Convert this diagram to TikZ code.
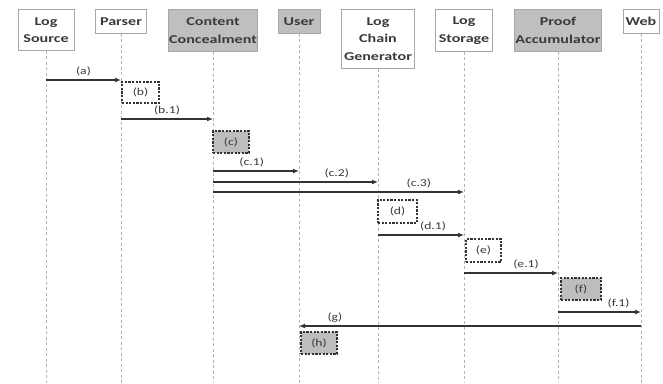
\documentclass[tikz,border=0pt]{standalone}
\usepackage{fontspec}
\setmainfont{Carlito}
\usepackage{graphicx}
\usetikzlibrary{arrows.meta}
\definecolor{hdrgray}{HTML}{BFBFBF}
\definecolor{hdrline}{HTML}{A6A6A6}
\definecolor{actgray}{HTML}{BDBDBD}
\definecolor{lifegray}{HTML}{B4B4B4}
\definecolor{msgcol}{HTML}{333333}
\definecolor{txtcol}{HTML}{3A3A3A}
\newcommand{\hs}[1]{\scalebox{1.34}[1]{#1}}
\newcommand{\ls}[1]{\scalebox{1.3}[1]{#1}}
\begin{document}
\begin{tikzpicture}[x=1pt,y=-1pt,
  hdr/.style={draw=hdrline, line width=0.9pt, fill=white, inner sep=0pt, align=center,
    font=\fontsize{12}{17.5}\selectfont\bfseries, text=txtcol, anchor=north},
  hdrg/.style={hdr, fill=hdrgray},
  life/.style={draw=lifegray, line width=0.7pt, dash pattern=on 3pt off 2.5pt},
  msg/.style={draw=msgcol, line width=1.3pt, -{Latex[length=6pt,width=5pt]}},
  lbl/.style={font=\fontsize{10.5}{11}\selectfont, text=txtcol, inner sep=1pt, above=2pt},
  act/.style={draw=black!80, line width=1.4pt, dash pattern=on 2.2pt off 1.4pt, fill=white,
    inner sep=0pt, font=\fontsize{10.5}{11}\selectfont, text=txtcol},
  actg/.style={act, fill=actgray}]
\useasboundingbox (0,0) rectangle (663,383);
\fill[white] (0,0) rectangle (663,383);
% headers
\node[hdr, minimum width=56, minimum height=41] (ls) at (46,9) {\hs{Log}\\\hs{Source}};
\node[hdr, minimum width=51, minimum height=24] (pa) at (121,9) {\hs{Parser}};
\node[hdrg, minimum width=89, minimum height=42] (cc) at (213,9) {\hs{Content}\\\hs{Concealment}};
\node[hdrg, minimum width=42, minimum height=24] (us) at (299,9) {\hs{User}};
\node[hdr, minimum width=73, minimum height=59] (lc) at (378,9) {\hs{Log}\\\hs{Chain}\\\hs{Generator}};
\node[hdr, minimum width=57, minimum height=42] (st) at (464,9) {\hs{Log}\\\hs{Storage}};
\node[hdrg, minimum width=87, minimum height=42] (pr) at (558,9) {\hs{Proof}\\\hs{Accumulator}};
\node[hdr, minimum width=36, minimum height=24] (wb) at (641,9) {\hs{Web}};
% lifelines
\coordinate (bot) at (0,383);
\foreach \n in {ls,pa,cc,us,lc,st,pr,wb}{
  \draw[life] (\n.south) -- (\n.south |- bot);
}
% rows
\coordinate (ya) at (0,80);
\coordinate (yb) at (0,119);
\coordinate (yc1) at (0,171);
\coordinate (yc2) at (0,182);
\coordinate (yc3) at (0,192);
\coordinate (yd) at (0,235);
\coordinate (ye) at (0,273);
\coordinate (yf) at (0,312);
\coordinate (yg) at (0,326);
% messages
\draw[msg] (ls |- ya) -- (pa |- ya) node[lbl, pos=0.5] (la) {\ls{(a)}};
\draw[msg] (pa |- yb) -- (cc |- yb) node[lbl, pos=0.5] (lb) {\ls{(b.1)}};
\draw[msg] (cc |- yc1) -- (us |- yc1) node[lbl, pos=0.45] (lc1) {\ls{(c.1)}};
\draw[msg] (cc |- yc2) -- (lc |- yc2) node[lbl, pos=0.75] (lc2) {\ls{(c.2)}};
\draw[msg] (cc |- yc3) -- (st |- yc3) node[lbl, pos=0.82] (lc3) {\ls{(c.3)}};
\draw[msg] (lc |- yd) -- (st |- yd) node[lbl, pos=0.64] (ld) {\ls{(d.1)}};
\draw[msg] (st |- ye) -- (pr |- ye) node[lbl, pos=0.66] (le) {\ls{(e.1)}};
\draw[msg] (pr |- yf) -- (wb |- yf) node[lbl, pos=0.73] (lf) {\ls{(f.1)}};
\draw[msg] (wb |- yg) -- (us |- yg) node[lbl, pos=0.895] (lg) {\ls{(g)}};
% activity boxes
\node[act, minimum width=37, minimum height=21] (b) at (140.5,92.5) {\ls{(b)}};
\node[actg, minimum width=36, minimum height=22] (c) at (231,142) {\ls{(c)}};
\node[act, minimum width=39, minimum height=23] (d) at (397.5,211.5) {\ls{(d)}};
\node[act, minimum width=35, minimum height=23] (e) at (483.5,250.5) {\ls{(e)}};
\node[actg, minimum width=40, minimum height=22] (f) at (581,289) {\ls{(f)}};
\node[actg, minimum width=36, minimum height=22] (h) at (319,343) {\ls{(h)}};
\end{tikzpicture}
\end{document}
